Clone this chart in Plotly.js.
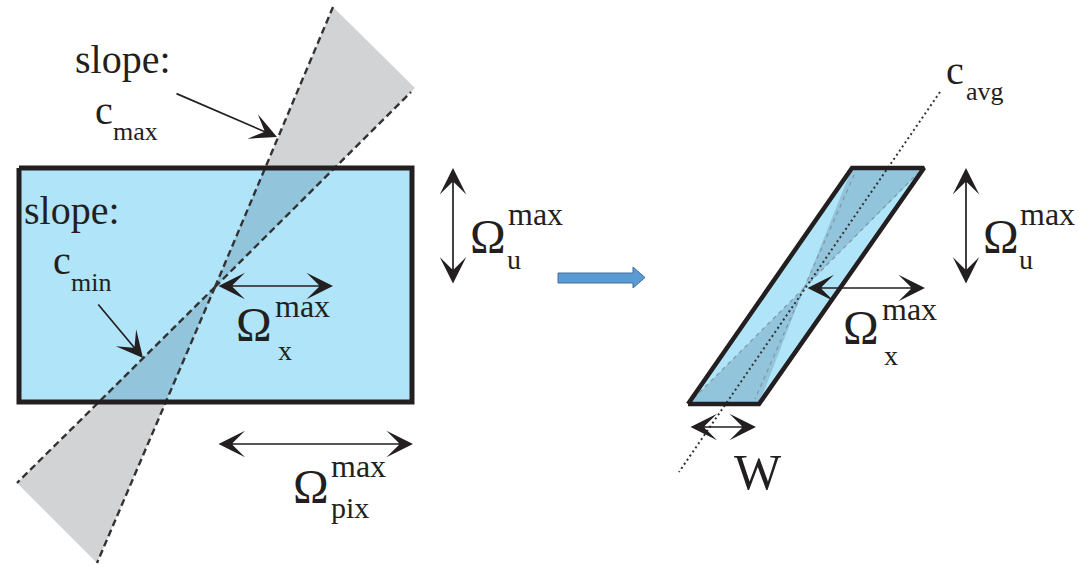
<!DOCTYPE html>
<html>
<head>
<meta charset="utf-8">
<script src="https://cdn.plot.ly/plotly-3.0.1.min.js"></script>
</head>
<body style="margin:0">
<div id="fig"></div>
<script>
// ---- Geometry of the diagram (drawing units = canvas pixels) ----
// Left panel: pixel frame and the two slope wedges meeting at one point
const frameX = [19, 412, 412, 19, 19];
const frameY = [168, 168, 402, 402, 168];
const apexLeft = [215, 287];
const upperWedgeX = [215, 333, 415];
const upperWedgeY = [287, 7, 88];
const lowerWedgeX = [215, 17, 97];
const lowerWedgeY = [287, 483, 563];
// dashed rays: c_max (steep) and c_min (shallow) directions
const rayEndsX = [333, 411, 97, 17];
const rayEndsY = [7, 92, 563, 483];

// Right panel: sheared frame
const shearX = [688, 759, 924, 852, 688];
const shearY = [404, 404, 168, 168, 404];
const apexRight = [804, 288];
const shearRayEndsX = [855, 918, 693, 755];
const shearRayEndsY = [173, 173, 399, 399];
const avgLineX = [940, 679];
const avgLineY = [92, 472];

// Block arrow between panels
const blockArrowX = [558, 633, 633, 645, 633, 633, 558, 558];
const blockArrowY = [273, 273, 267, 277.5, 288, 283, 283, 273];

// Dimension arrows: [x, y, ax, ay, twoHeaded]
const dimArrows = [
  [277, 137, 175, 93, false],     // slope c_max pointer
  [143, 358, 97, 303, false],     // slope c_min pointer
  [333, 286, 217, 286, true],     // Omega_x (left)
  [413, 444, 217, 444, true],     // Omega_pix
  [453, 168, 453, 285, true],     // Omega_u (left)
  [925, 288, 806, 288, true],     // Omega_x (right)
  [966, 168, 966, 285, true],     // Omega_u (right)
  [756, 427, 689, 427, true]      // W
];

// Labels: [text, x, y, size]
const labels = [
  ['slope:', 75, 63, 40],
  ['c', 95, 114, 40],
  ['max', 113, 133, 26],
  ['slope:', 24, 214, 40],
  ['c', 53, 264, 40],
  ['min', 71, 284, 26],
  ['Ω', 236, 329, 48],
  ['max', 275, 309, 32],
  ['x', 278, 353, 28],
  ['Ω', 293, 491, 48],
  ['max', 331, 469, 32],
  ['pix', 331, 510, 30],
  ['Ω', 470, 241, 48],
  ['max', 508, 217, 32],
  ['u', 507, 262, 28],
  ['c', 946, 74, 40],
  ['avg', 966, 93, 26],
  ['Ω', 983, 241, 48],
  ['max', 1020, 217, 32],
  ['u', 1019, 262, 28],
  ['Ω', 843, 332, 48],
  ['max', 882, 312, 32],
  ['x', 884, 358, 28],
  ['W', 734, 476, 50]
];

// ---- Colours and type ----
const INK = '#231f20';
const SKY = '#b0e4f8';
const SKY_DARK = '#92c5dc';
const GREY = '#d2d3d5';
const SERIF = 'Liberation Serif';

// x on the segment (x0,y0)-(x1,y1) at height y
function xAtY(x0, y0, x1, y1, y) {
  return x0 + (x1 - x0) * (y - y0) / (y1 - y0);
}

const traces = [];
function poly(xs, ys, fill) {
  traces.push({ x: xs, y: ys, mode: 'lines', fill: 'toself', fillcolor: fill,
    line: { width: 0, color: fill }, hoverinfo: 'skip' });
}
function seg(xs, ys, color, width, dash) {
  traces.push({ x: xs, y: ys, mode: 'lines',
    line: { color: color, width: width, dash: dash || 'solid' }, hoverinfo: 'skip' });
}

// grey wedges
poly(upperWedgeX.concat([upperWedgeX[0]]), upperWedgeY.concat([upperWedgeY[0]]), GREY);
poly(lowerWedgeX.concat([lowerWedgeX[0]]), lowerWedgeY.concat([lowerWedgeY[0]]), GREY);
// frame fill
poly(frameX, frameY, SKY);
// wedge parts inside the frame
const topY = frameY[0], botY = frameY[2];
const [ax0, ay0] = apexLeft;
poly([ax0, xAtY(ax0, ay0, rayEndsX[0], rayEndsY[0], topY), xAtY(ax0, ay0, rayEndsX[1], rayEndsY[1], topY), ax0],
     [ay0, topY, topY, ay0], SKY_DARK);
poly([ax0, xAtY(ax0, ay0, rayEndsX[2], rayEndsY[2], botY), xAtY(ax0, ay0, rayEndsX[3], rayEndsY[3], botY), ax0],
     [ay0, botY, botY, ay0], SKY_DARK);
// dashed rays
for (let i = 0; i < rayEndsX.length; i++) {
  seg([ax0, rayEndsX[i]], [ay0, rayEndsY[i]], '#333333', 2.4, '7px,4px');
}
// frame border
seg(frameX, frameY, INK, 5);

// right panel
poly(shearX, shearY, SKY);
const [bx0, by0] = apexRight;
poly([bx0, shearX[3], shearX[2], bx0], [by0, shearY[3], shearY[2], by0], SKY_DARK);
poly([bx0, shearX[0], shearX[1], bx0], [by0, shearY[0], shearY[1], by0], SKY_DARK);
for (let i = 0; i < shearRayEndsX.length; i++) {
  seg([bx0, shearRayEndsX[i]], [by0, shearRayEndsY[i]], '#7d97a5', 1.2, '4px,4px');
}
seg(avgLineX, avgLineY, '#333333', 2, '2px,3px');
seg(shearX, shearY, INK, 4.5);

// block arrow
traces.push({ x: blockArrowX, y: blockArrowY, mode: 'lines', fill: 'toself',
  fillcolor: '#5b9bd5', line: { color: '#41719c', width: 1 }, hoverinfo: 'skip' });

// labels as text marks, one trace per font size
const sizes = [...new Set(labels.map(l => l[3]))];
sizes.forEach(s => {
  const group = labels.filter(l => l[3] === s);
  traces.push({
    x: group.map(l => l[1]), y: group.map(l => l[2]),
    text: group.map(l => l[0]),
    mode: 'text', textposition: 'middle right',
    textfont: { family: SERIF, size: s, color: INK },
    hoverinfo: 'skip', cliponaxis: false
  });
});

const annotations = [];
dimArrows.forEach(([x, y, ax, ay, both]) => {
  annotations.push({
    x: x, y: y, ax: ax, ay: ay, xref: 'x', yref: 'y', axref: 'x', ayref: 'y',
    text: '', showarrow: true, arrowhead: 3, startarrowhead: 3,
    arrowside: both ? 'end+start' : 'end',
    arrowsize: 2.6, startarrowsize: 2.6, arrowwidth: 1.7, arrowcolor: INK,
    standoff: 0, startstandoff: 0
  });
});

const layout = {
  width: 1079, height: 567,
  margin: { l: 0, r: 0, t: 0, b: 0 },
  paper_bgcolor: '#ffffff', plot_bgcolor: '#ffffff',
  showlegend: false,
  xaxis: { range: [0, 1079], visible: false, fixedrange: true },
  yaxis: { range: [567, 0], visible: false, fixedrange: true },
  annotations: annotations
};

Plotly.newPlot('fig', traces, layout, { staticPlot: true, displayModeBar: false });
</script>
</body>
</html>
